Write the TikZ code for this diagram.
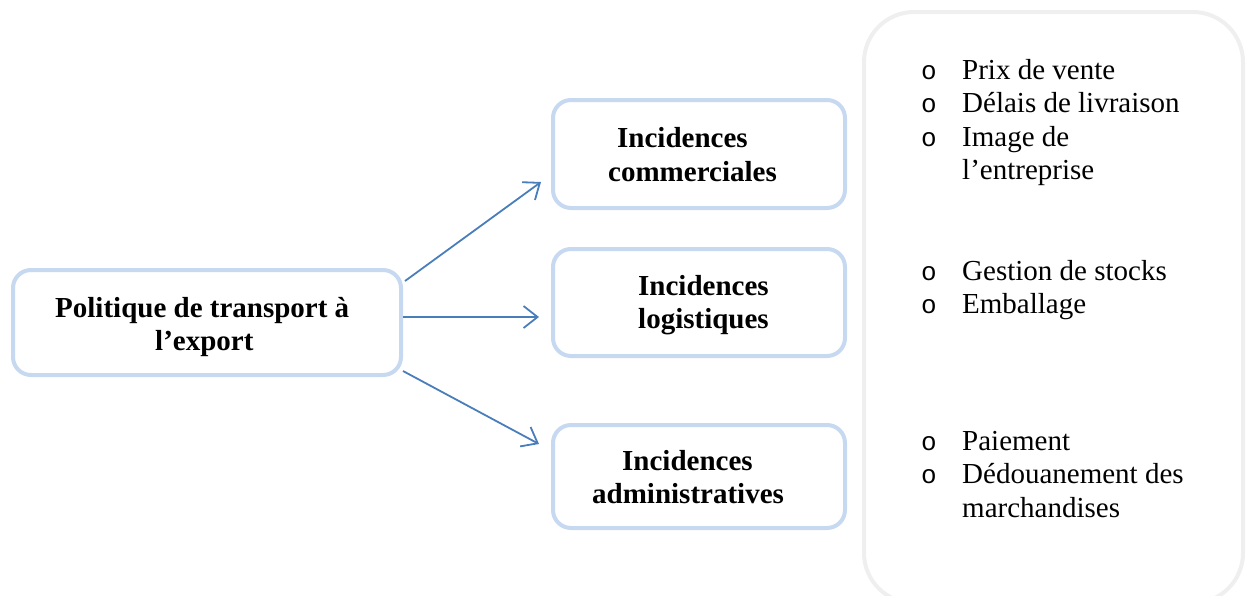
\documentclass[tikz,border=0pt]{standalone}
\usepackage{fontspec}
\setmainfont{Liberation Serif}
\newfontfamily\bulletfont{Liberation Mono}
\usetikzlibrary{arrows.meta}
\definecolor{boxblue}{HTML}{C6D9F1}
\definecolor{arrowblue}{HTML}{4A7EBB}
\definecolor{panelgray}{HTML}{EFEFEF}
\tikzset{
  box/.style={draw=boxblue, line width=4pt, rounded corners=18pt, fill=white, inner sep=0pt},
  arr/.style={draw=arrowblue, line width=1.8pt, -{Straight Barb[length=14pt,width=22pt,line width=1.8pt]}},
  btxt/.style={inner sep=0pt, anchor=base west, font=\fontsize{29}{33.5}\selectfont\bfseries},
  rtxt/.style={inner sep=0pt, anchor=base west, font=\fontsize{29}{33.5}\selectfont},
  bullet/.style={inner sep=0pt, anchor=base west, font=\bulletfont\fontsize{26}{29}\selectfont}
}
\begin{document}
\begin{tikzpicture}[x=1pt, y=-1pt]
  \useasboundingbox (0,0) rectangle (1248,595);
  \clip (0,0) rectangle (1248,595);

  % right-hand panel listing the effects
  \draw[panelgray, line width=4pt, rounded corners=50pt] (864,12) rectangle (1243,603);

  % boxes
  \node[box, minimum width=388pt, minimum height=105pt] (L) at (207,322.5) {};
  \node[box, minimum width=292pt, minimum height=108pt] (C1) at (699,154) {};
  \node[box, minimum width=292pt, minimum height=107pt] (C2) at (699,302.5) {};
  \node[box, minimum width=292pt, minimum height=103pt] (C3) at (699,476.5) {};

  % box captions
  \node[btxt] (l1) at (55,317) {Politique de transport à};
  \node[btxt] (l2) at (155,350) {l’export};
  \node[btxt] (c1a) at (617,147) {Incidences};
  \node[btxt] (c1b) at (608,181) {commerciales};
  \node[btxt] (c2a) at (638,295) {Incidences};
  \node[btxt] (c2b) at (638,328) {logistiques};
  \node[btxt] (c3a) at (622,470) {Incidences};
  \node[btxt] (c3b) at (592,503) {administratives};

  % arrows
  \draw[arr] ([xshift=2pt,yshift=-13pt]L.north east) -- ([xshift=-10pt,yshift=28pt]C1.south west);
  \draw[arr] ([yshift=5.5pt]L.east) -- ([xshift=-12pt,yshift=-14.5pt]C2.west);
  \draw[arr] ([yshift=6pt]L.south east) -- ([xshift=-12pt,yshift=-21pt]C3.north west);

  % bullet lists
  \foreach \n/\y/\t in {p1/79/Prix de vente, p2/112.5/Délais de livraison, p3/146/Image de,
                        q1/280/Gestion de stocks, q2/313.5/Emballage,
                        s1/450/Paiement, s2/483.5/Dédouanement des}{
    \node[bullet] (b\n) at (921,\y) {o};
    \node[rtxt] (t\n) at (962,\y) {\t};
  }
  \node[rtxt] (p4) at (962,179.5) {l’entreprise};
  \node[rtxt] (s3) at (962,517) {marchandises};
\end{tikzpicture}
\end{document}
